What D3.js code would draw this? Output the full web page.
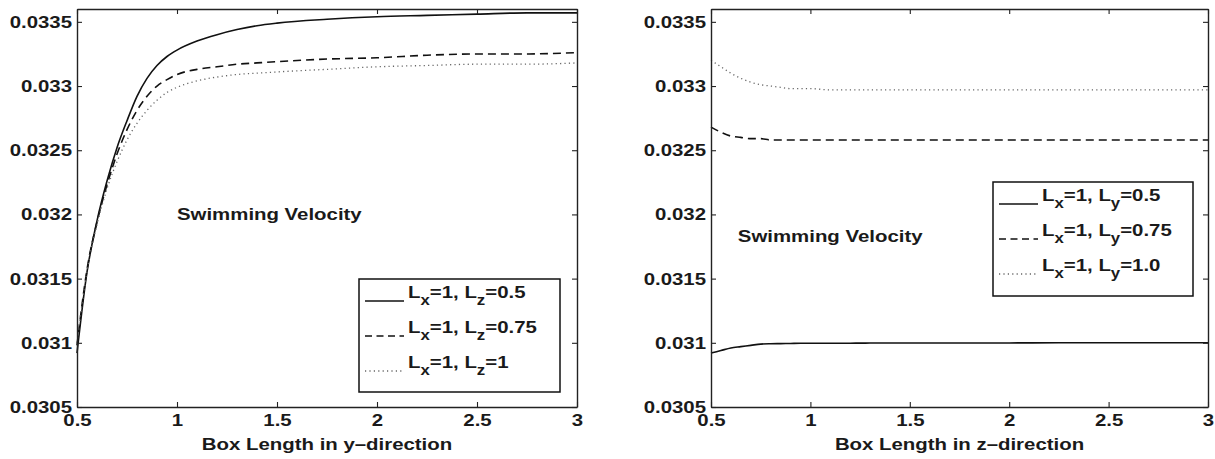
<!DOCTYPE html>
<html><head><meta charset="utf-8">
<script src="https://cdn.jsdelivr.net/npm/d3@7"></script>
<style>
body{margin:0;background:#fff}
svg{display:block}
text{font-family:"Liberation Sans",Arial,Helvetica,sans-serif;font-weight:bold;fill:#1a1a1a}
</style>
</head><body>
<svg id="chart" width="1215" height="459"></svg>
<script>
// ---------- data ----------
const boxLength = [0.5,0.55,0.6,0.65,0.7,0.75,0.8,0.85,0.9,0.95,1.0,1.1,1.2,1.3,1.4,1.5,1.75,2.0,2.25,2.5,2.75,3.0];

// left panel: varying box length in y
const leftLz05  = [0.03092,0.03155,0.03195,0.03226,0.03252,0.03273,0.03292,0.03306,0.03316,0.03323,0.03328,0.03335,0.0334,0.03344,0.03347,0.03349,0.03352,0.03354,0.03355,0.03356,0.03357,0.03357];
const leftLz075 = [0.03098,0.03157,0.03194,0.03223,0.03247,0.03266,0.03281,0.03292,0.033,0.03305,0.03309,0.03313,0.03315,0.03317,0.03318,0.03319,0.03321,0.03322,0.03324,0.03325,0.03325,0.03326];
const leftLz1   = [0.031,0.03156,0.03192,0.0322,0.03241,0.03258,0.03271,0.03281,0.03289,0.03295,0.03299,0.03304,0.03307,0.03309,0.0331,0.03311,0.03313,0.03315,0.03316,0.03317,0.03317,0.03318];

// right panel: varying box length in z
const rightLy05  = [0.03092,0.03094,0.03096,0.03097,0.03098,0.03099,0.030993,0.030994,0.030995,0.030996,0.030996,0.030997,0.030997,0.030998,0.030998,0.030998,0.030999,0.030999,0.031,0.031,0.031,0.031];
const rightLy075 = [0.03268,0.03264,0.03261,0.0326,0.03259,0.03259,0.03258,0.03258,0.03258,0.03258,0.03258,0.03258,0.03258,0.03258,0.03258,0.03258,0.03258,0.03258,0.03258,0.03258,0.03258,0.03258];
const rightLy1   = [0.0332,0.03315,0.0331,0.03306,0.03303,0.03301,0.033,0.03299,0.03298,0.03298,0.03298,0.03297,0.03297,0.03297,0.03297,0.03297,0.03297,0.03297,0.03297,0.03297,0.03297,0.03297];

const xDomain = [0.5, 3];
const yDomain = [0.0305, 0.0336];
const xTickValues = [0.5,1,1.5,2,2.5,3];
const xTickLabels = ["0.5","1","1.5","2","2.5","3"];
const yTickValues = [0.0305,0.031,0.0315,0.032,0.0325,0.033,0.0335];
const yTickLabels = ["0.0305","0.031","0.0315","0.032","0.0325","0.033","0.0335"];

const leftXLabel  = "Box Length in y\u2013direction";
const rightXLabel = "Box Length in z\u2013direction";
const annotationText = "Swimming Velocity";
const leftLegendLabels  = ["L_x=1, L_z=0.5","L_x=1, L_z=0.75","L_x=1, L_z=1"];
const rightLegendLabels = ["L_x=1, L_y=0.5","L_x=1, L_y=0.75","L_x=1, L_y=1.0"];
const leftAnnotationPos  = [1.0, 0.032];
const rightAnnotationPos = [0.635, 0.03183];

// ---------- styles ----------
const lineStyles = [
  {stroke:"#111", width:1.6, dash:null},
  {stroke:"#111", width:1.6, dash:"8,5"},
  {stroke:"#666", width:1.3, dash:"1.2,3.2"}
];
const SX = 1.2;   // horizontal stretch of text in reference
const FS = 17;

const svg = d3.select("#chart");

function panel(cfg){
  const x = d3.scaleLinear().domain(xDomain).range([cfg.x0, cfg.x1]);
  const y = d3.scaleLinear().domain(yDomain).range([cfg.y1, cfg.y0]);
  const g = svg.append("g");

  // curves
  const line = d3.line().x((d,i)=>x(boxLength[i])).y(d=>y(d)).curve(d3.curveMonotoneX);
  cfg.series.forEach((s,i)=>{
    const st = lineStyles[i];
    g.append("path").attr("d", line(s)).attr("fill","none")
      .attr("stroke", st.stroke).attr("stroke-width", st.width)
      .attr("stroke-dasharray", st.dash);
  });

  // axes with inward ticks
  const ax = g.append("g").attr("transform",`translate(0,${cfg.y1})`)
    .call(d3.axisBottom(x).tickValues(xTickValues).tickFormat((d,i)=>xTickLabels[i]).tickSize(-5).tickSizeOuter(0).tickPadding(7));
  ax.selectAll("text").attr("font-size",FS).attr("transform",`scale(${SX},1)`);
  const ay = g.append("g").attr("transform",`translate(${cfg.x0},0)`)
    .call(d3.axisLeft(y).tickValues(yTickValues).tickFormat((d,i)=>yTickLabels[i]).tickSize(-5).tickSizeOuter(0).tickPadding(5));
  ay.selectAll("text").attr("font-size",FS).attr("x",-5/SX).attr("transform",`scale(${SX},1)`);
  g.append("g").attr("transform",`translate(0,${cfg.y0})`)
    .call(d3.axisTop(x).tickValues(xTickValues).tickFormat("").tickSize(-5).tickSizeOuter(0));
  g.append("g").attr("transform",`translate(${cfg.x1},0)`)
    .call(d3.axisRight(y).tickValues(yTickValues).tickFormat("").tickSize(-5).tickSizeOuter(0));
  g.selectAll(".domain").attr("stroke","#222").attr("stroke-width",1.4);
  g.selectAll(".tick line").attr("stroke","#222").attr("stroke-width",1.1);
  g.selectAll(".tick text").attr("fill","#1a1a1a").attr("font-family",null);

  // x label
  g.append("text").attr("transform",`translate(${(cfg.x0+cfg.x1)/2},450) scale(${SX},1)`)
    .attr("text-anchor","middle").attr("font-size",FS).text(cfg.xlabel);

  // annotation
  g.append("text").attr("transform",`translate(${x(cfg.ann[0])},${y(cfg.ann[1])}) scale(${SX},1)`)
    .attr("dy","0.35em").attr("font-size",FS).text(annotationText);

  // legend
  const L = cfg.legend;
  const lg = g.append("g");
  lg.append("rect").attr("x",L.x).attr("y",L.y).attr("width",L.w).attr("height",L.h)
    .attr("fill","#fff").attr("stroke","#111").attr("stroke-width",1.5);
  cfg.labels.forEach((lab,i)=>{
    const ly = L.y + 22 + i*35;
    const st = lineStyles[i];
    lg.append("line").attr("x1",L.x+6).attr("x2",L.x+45).attr("y1",ly).attr("y2",ly)
      .attr("stroke",st.stroke).attr("stroke-width",st.width)
      .attr("stroke-dasharray", i===1 ? "7,4.5" : (i===2 ? "1.2,3.2" : null));
    const t = lg.append("text").attr("transform",`translate(${L.x+49},${ly-3}) scale(${SX},1)`).attr("font-size",FS);
    const parts = lab.split(/_(\w)/);
    let sub = false;
    parts.forEach((p,k)=>{
      if(k%2===1){
        t.append("tspan").attr("font-size",14).attr("dy",7).text(p);
        sub = true;
      } else if(p.length){
        t.append("tspan").attr("dy", sub ? -7 : 0).text(p);
        sub = false;
      }
    });
  });
}

panel({x0:77,x1:577,y0:9,y1:407,series:[leftLz05,leftLz075,leftLz1],xlabel:leftXLabel,
  ann:leftAnnotationPos,labels:leftLegendLabels,legend:{x:359,y:279,w:201,h:113}});
panel({x0:711,x1:1208,y0:9,y1:407,series:[rightLy05,rightLy075,rightLy1],xlabel:rightXLabel,
  ann:rightAnnotationPos,labels:rightLegendLabels,legend:{x:993,y:182,w:200,h:114}});
</script>
</body></html>
